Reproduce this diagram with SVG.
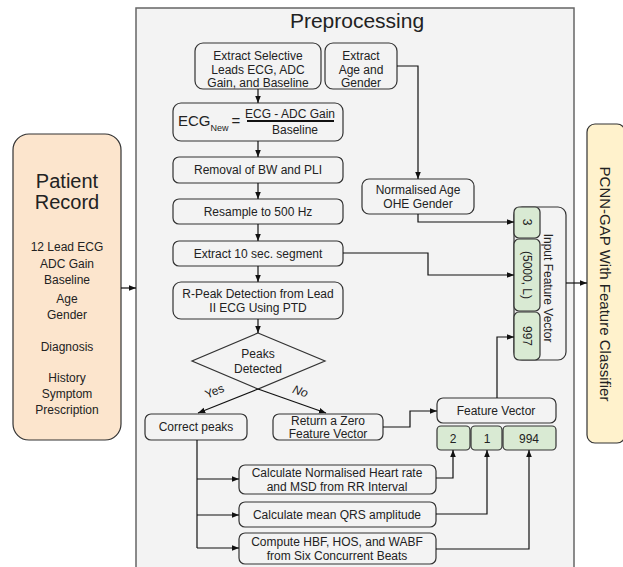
<svg xmlns="http://www.w3.org/2000/svg" width="623" height="567" viewBox="0 0 623 567">
<style>
text{font-family:"Liberation Sans",Arial,sans-serif;fill:#222;}
.t{font-size:12px;text-anchor:middle;}
.box{fill:#f3f3f3;stroke:#333;stroke-width:1.2;}
.g{fill:#d9ead3;stroke:#333;stroke-width:1.2;}
.c{fill:none;stroke:#111;stroke-width:1.2;}
</style>
<defs>
<marker id="a" viewBox="0 0 10 10" refX="10" refY="5" markerWidth="6" markerHeight="6" orient="auto">
<path d="M0,1 L10,5 L0,9 z" fill="#111"/>
</marker>
</defs>
<rect width="623" height="567" fill="#fff"/>
<g id="preprocessing">
<rect x="136" y="8" width="438" height="570" fill="#f3f3f3" stroke="#666" stroke-width="1.5"/>
<text x="357" y="28" style="font-size:21px;text-anchor:middle">Preprocessing</text>
</g>
<g id="patient-record">
<rect x="13" y="134" width="108" height="306" rx="16" fill="#fce5cd" stroke="#333" stroke-width="1.2"/>
<text x="67" y="188" style="font-size:20px;text-anchor:middle">Patient</text>
<text x="67" y="209" style="font-size:20px;text-anchor:middle">Record</text>
<text class="t" x="67" y="251">12 Lead ECG</text>
<text class="t" x="67" y="268">ADC Gain</text>
<text class="t" x="67" y="284">Baseline</text>
<text class="t" x="67" y="303">Age</text>
<text class="t" x="67" y="319">Gender</text>
<text class="t" x="67" y="351">Diagnosis</text>
<text class="t" x="67" y="382">History</text>
<text class="t" x="67" y="398">Symptom</text>
<text class="t" x="67" y="414">Prescription</text>
</g>
<g id="classifier">
<rect x="587" y="124" width="38" height="319" rx="8" fill="#fff2cc" stroke="#333" stroke-width="1.2"/>
<text transform="translate(600,284) rotate(90)" style="font-size:15px;text-anchor:middle">PCNN-GAP With Feature Classifier</text>
</g>
<g id="extract-leads">
<rect class="box" x="195" y="43" width="126" height="46" rx="8"/>
<text class="t" x="258" y="60">Extract Selective</text>
<text class="t" x="258" y="74">Leads ECG, ADC</text>
<text class="t" x="258" y="87">Gain, and Baseline</text>
</g>
<g id="extract-age">
<rect class="box" x="325" y="43" width="72" height="46" rx="8"/>
<text class="t" x="361" y="60">Extract</text>
<text class="t" x="361" y="74">Age and</text>
<text class="t" x="361" y="87">Gender</text>
</g>
<g id="ecg-new">
<rect class="box" x="173" y="103" width="170" height="38" rx="8"/>
<text x="178" y="126" style="font-size:15px">ECG<tspan dy="5" style="font-size:9px">New</tspan></text>
<text x="236" y="126" style="font-size:15px;text-anchor:middle">=</text>
<text class="t" x="290" y="118">ECG - ADC Gain</text>
<line x1="247" y1="121" x2="334" y2="121" stroke="#111" stroke-width="2"/>
<text class="t" x="295" y="134">Baseline</text>
</g>
<g id="removal">
<rect class="box" x="173" y="157" width="170" height="26" rx="6"/>
<text class="t" x="258" y="174">Removal of BW and PLI</text>
</g>
<g id="resample">
<rect class="box" x="173" y="199" width="170" height="25" rx="6"/>
<text class="t" x="258" y="216">Resample to 500 Hz</text>
</g>
<g id="extract-segment">
<rect class="box" x="173" y="241" width="170" height="25" rx="6"/>
<text class="t" x="258" y="258">Extract 10 sec. segment</text>
</g>
<g id="rpeak">
<rect class="box" x="173" y="282" width="170" height="37" rx="8"/>
<text class="t" x="258" y="298">R-Peak Detection from Lead</text>
<text class="t" x="258" y="312">II ECG Using PTD</text>
</g>
<g id="peaks-detected">
<polygon points="258,333 325,361 258,389 192,361" fill="#f3f3f3" stroke="#333" stroke-width="1.2"/>
<text class="t" x="258" y="358">Peaks</text>
<text class="t" x="258" y="373">Detected</text>
</g>
<g id="correct-peaks">
<rect class="box" x="145" y="414" width="102" height="26" rx="6"/>
<text class="t" x="196" y="431">Correct peaks</text>
</g>
<g id="return-zero">
<rect class="box" x="273" y="414" width="110" height="26" rx="6"/>
<text class="t" x="328" y="425">Return a Zero</text>
<text class="t" x="328" y="438">Feature Vector</text>
</g>
<g id="normalised-age">
<rect class="box" x="362" y="179" width="112" height="35" rx="7"/>
<text class="t" x="418" y="194">Normalised Age</text>
<text class="t" x="418" y="208">OHE Gender</text>
</g>
<g id="input-feature-vector">
<rect class="box" x="514" y="207" width="52" height="153" rx="8"/>
<rect class="g" x="514" y="207" width="26" height="31" rx="5"/>
<rect class="g" x="514" y="239" width="26" height="72" rx="5"/>
<rect class="g" x="514" y="312" width="26" height="48" rx="5"/>
<text class="t" transform="translate(523,222) rotate(90)">3</text>
<text class="t" transform="translate(523,275) rotate(90)">(5000, L)</text>
<text class="t" transform="translate(523,336) rotate(90)">997</text>
<text class="t" transform="translate(544,288) rotate(90)">Input Feature Vector</text>
</g>
<g id="feature-vector">
<rect class="box" x="437" y="398" width="119" height="25" rx="6"/>
<text class="t" x="496" y="415">Feature Vector</text>
<rect class="g" x="437" y="426" width="33" height="24" rx="4"/>
<rect class="g" x="471" y="426" width="31" height="24" rx="4"/>
<rect class="g" x="503" y="426" width="53" height="24" rx="4"/>
<text class="t" x="453" y="443">2</text>
<text class="t" x="487" y="443">1</text>
<text class="t" x="529" y="443">994</text>
</g>
<g id="heart-rate">
<rect class="box" x="239" y="465" width="197" height="29" rx="6"/>
<text class="t" x="337" y="477">Calculate Normalised Heart rate</text>
<text class="t" x="337" y="491">and MSD from RR Interval</text>
</g>
<g id="qrs">
<rect class="box" x="239" y="502" width="197" height="25" rx="6"/>
<text class="t" x="337" y="519">Calculate mean QRS amplitude</text>
</g>
<g id="hbf">
<rect class="box" x="239" y="533" width="197" height="31" rx="6"/>
<text class="t" x="337" y="546">Compute HBF,  HOS, and WABF</text>
<text class="t" x="337" y="560">from Six Concurrent Beats</text>
</g>
<g id="connectors">
<path class="c" d="M121,288 H136" marker-end="url(#a)"/>
<path class="c" d="M566,283 H587" marker-end="url(#a)"/>
<path class="c" d="M258,89 V103" marker-end="url(#a)"/>
<path class="c" d="M258,141 V157" marker-end="url(#a)"/>
<path class="c" d="M258,183 V199" marker-end="url(#a)"/>
<path class="c" d="M258,224 V241" marker-end="url(#a)"/>
<path class="c" d="M258,266 V282" marker-end="url(#a)"/>
<path class="c" d="M258,319 V333" marker-end="url(#a)"/>
<path class="c" d="M397,66 H418 V179" marker-end="url(#a)"/>
<path class="c" d="M418,214 V222 H514" marker-end="url(#a)"/>
<path class="c" d="M343,253 H428 V275 H514" marker-end="url(#a)"/>
<path class="c" d="M258,389 L198,413" marker-end="url(#a)"/>
<path class="c" d="M258,389 L326,413" marker-end="url(#a)"/>
<path class="c" d="M383,427 H410 V411 H437" marker-end="url(#a)"/>
<path class="c" d="M497,398 V337 H514" marker-end="url(#a)"/>
<path class="c" d="M197,440 V548"/>
<path class="c" d="M197,479 H239" marker-end="url(#a)"/>
<path class="c" d="M197,515 H239" marker-end="url(#a)"/>
<path class="c" d="M197,548 H239" marker-end="url(#a)"/>
<path class="c" d="M436,478 H453 V450" marker-end="url(#a)"/>
<path class="c" d="M436,514 H487 V450" marker-end="url(#a)"/>
<path class="c" d="M436,549 H529 V450" marker-end="url(#a)"/>
<text transform="translate(216,395) rotate(-22)" style="font-size:12px;text-anchor:middle">Yes</text>
<text transform="translate(299,395) rotate(20)" style="font-size:12px;text-anchor:middle;font-style:italic">No</text>
</g>
</svg>
